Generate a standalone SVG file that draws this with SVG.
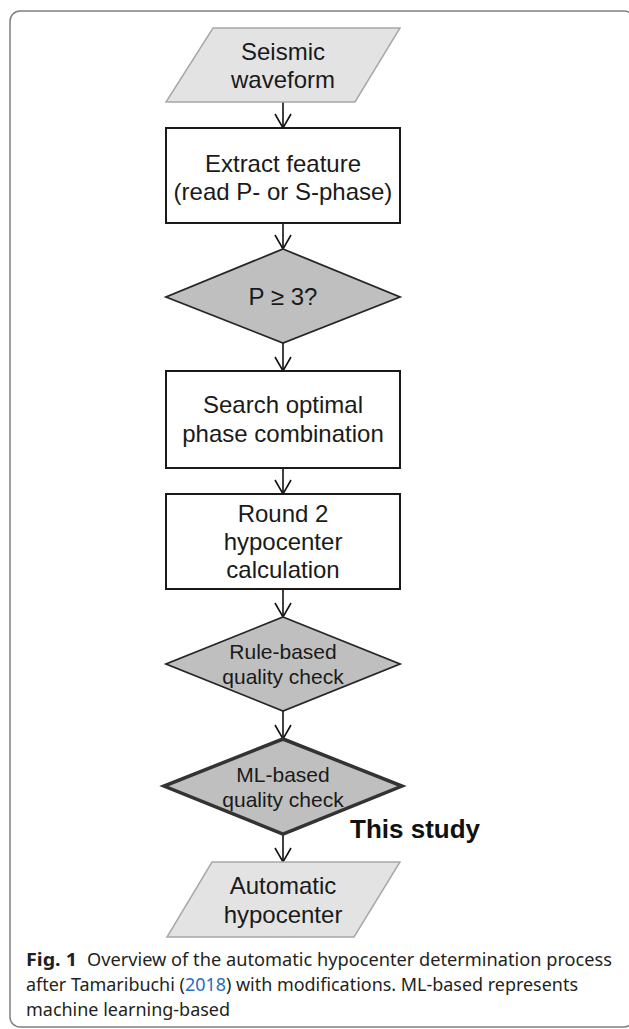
<svg xmlns="http://www.w3.org/2000/svg" width="629" height="1029" viewBox="0 0 629 1029">
<style>
  .t { font-family: "Liberation Sans", Arial, sans-serif; font-size: 24px; fill: #1a1a1a; text-anchor: middle; }
  .ts { font-size: 21px; }
  .box { fill: #ffffff; stroke: #1a1a1a; stroke-width: 2; }
  .io { fill: #e3e3e3; stroke: #a8a8a8; stroke-width: 1.5; }
  .dec { fill: #bfbfbf; stroke: #262626; stroke-width: 1.8; }
  .dec2 { fill: #bfbfbf; stroke: #333333; stroke-width: 3.5; stroke-linejoin: miter; }
  .arr { stroke: #111; stroke-width: 1.6; fill: none; marker-end: url(#v); }
  .cap { font-family: "Noto Sans", "Open Sans", sans-serif; font-size: 18px; fill: #231f20; }
</style>
<defs>
  <marker id="v" markerUnits="userSpaceOnUse" markerWidth="20" markerHeight="20" refX="15" refY="9" orient="auto" viewBox="0 0 20 20" overflow="visible">
    <path d="M1,1 L15,9 L1,17" fill="none" stroke="#111" stroke-width="1.6"/>
  </marker>
</defs>
<rect id="frame" x="10" y="11" width="624" height="1016" rx="10" ry="10" fill="#ffffff" stroke="#808080" stroke-width="1.5"/>

<g id="connectors">
  <line class="arr" x1="283" y1="102" x2="283" y2="128"/>
  <line class="arr" x1="283" y1="223" x2="283" y2="249"/>
  <line class="arr" x1="283" y1="343" x2="283" y2="371"/>
  <line class="arr" x1="283" y1="468" x2="283" y2="494"/>
  <line class="arr" x1="283" y1="589" x2="283" y2="617"/>
  <line class="arr" x1="283" y1="711" x2="283" y2="739"/>
  <line class="arr" x1="283" y1="834" x2="283" y2="862"/>
</g>

<g id="seismic-waveform">
  <polygon class="io" points="213,28 400,28 355,102 166,102"/>
  <text class="t" x="283" y="60">Seismic</text>
  <text class="t" x="283" y="88">waveform</text>
</g>

<g id="extract-feature">
  <rect class="box" x="166" y="128" width="234" height="95"/>
  <text class="t" x="283" y="172">Extract feature</text>
  <text class="t" x="283" y="200">(read P- or S-phase)</text>
</g>

<g id="p-check">
  <polygon class="dec" points="283,249 400,297 283,343 166,297"/>
  <text class="t" x="283" y="305">P ≥ 3?</text>
</g>

<g id="search-optimal">
  <rect class="box" x="166" y="371" width="234" height="97"/>
  <text class="t" x="283" y="413">Search optimal</text>
  <text class="t" x="283" y="442">phase combination</text>
</g>

<g id="round2">
  <rect class="box" x="166" y="494" width="234" height="95"/>
  <text class="t" x="283" y="522">Round 2</text>
  <text class="t" x="283" y="550">hypocenter</text>
  <text class="t" x="283" y="578">calculation</text>
</g>

<g id="rule-based">
  <polygon class="dec" points="283,617 400,664 283,711 166,664"/>
  <text class="t ts" x="283" y="659">Rule-based</text>
  <text class="t ts" x="283" y="684">quality check</text>
</g>

<g id="ml-based">
  <polygon class="dec2" points="283,739 402,786 283,834 164,786"/>
  <text class="t ts" x="283" y="782">ML-based</text>
  <text class="t ts" x="283" y="807">quality check</text>
</g>

<g id="this-study">
  <text x="350" y="838" font-family="Liberation Sans, Arial, sans-serif" font-size="26" font-weight="bold" fill="#111">This study</text>
</g>

<g id="automatic-hypocenter">
  <polygon class="io" points="212,862 400,862 354,937 167,937"/>
  <text class="t" x="283" y="894">Automatic</text>
  <text class="t" x="283" y="923">hypocenter</text>
</g>

<g id="caption">
  <text class="cap" x="26" y="966" font-weight="bold" textLength="51" lengthAdjust="spacingAndGlyphs">Fig. 1</text>
  <text class="cap" x="87" y="966" textLength="525" lengthAdjust="spacingAndGlyphs">Overview of the automatic hypocenter determination process</text>
  <text class="cap" x="26" y="991" textLength="552" lengthAdjust="spacingAndGlyphs">after Tamaribuchi (<tspan fill="#2a6ebb">2018</tspan>) with modifications. ML-based represents</text>
  <text class="cap" x="26" y="1016" textLength="204" lengthAdjust="spacingAndGlyphs">machine learning-based</text>
</g>
</svg>
